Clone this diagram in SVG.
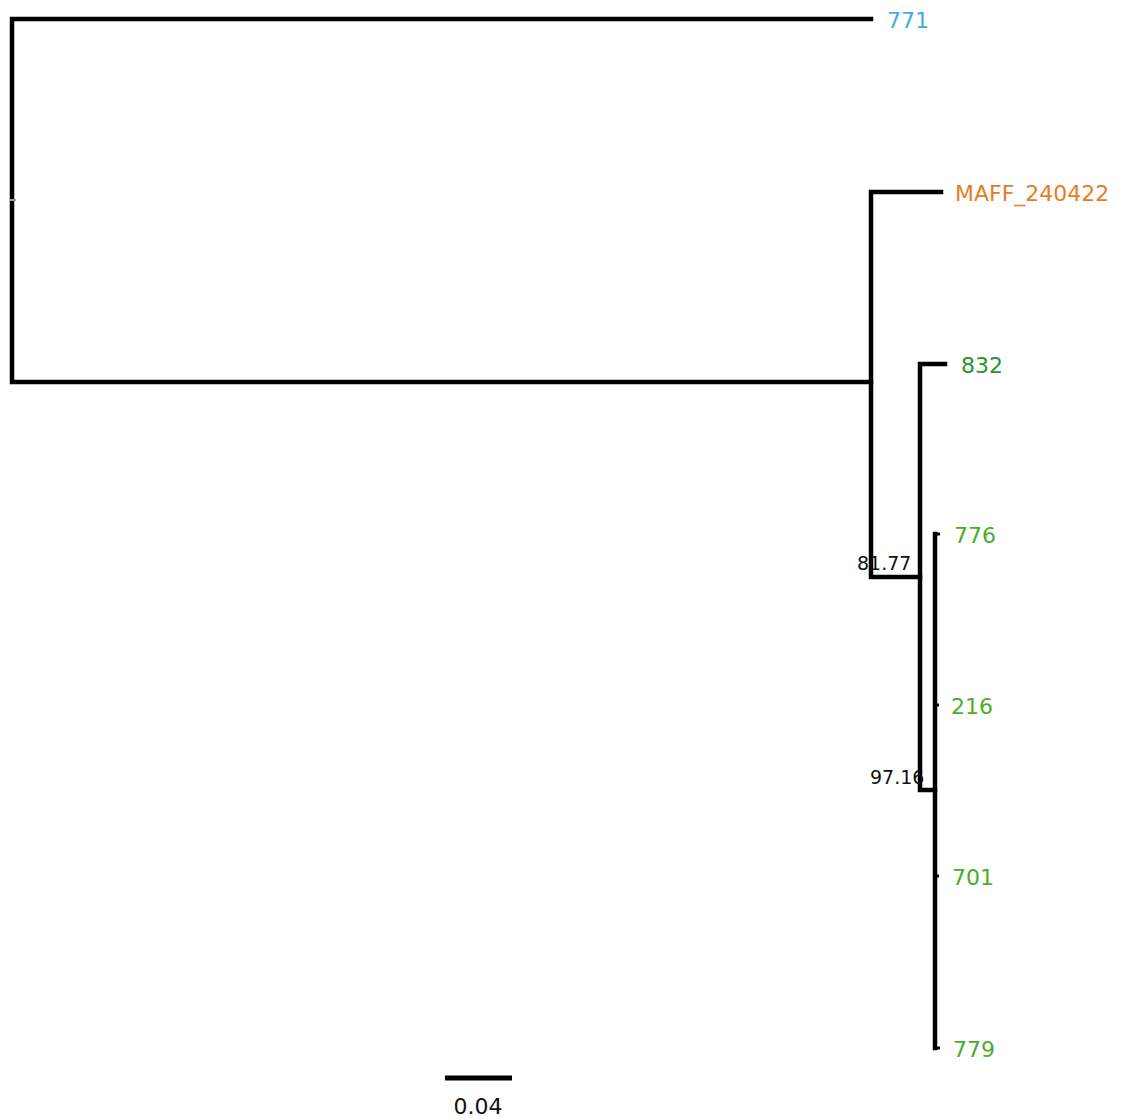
<svg xmlns="http://www.w3.org/2000/svg" width="1124" height="1119" viewBox="0 0 1124 1119">
<style>
.br{fill:none;stroke:#000;stroke-width:4.5;stroke-linecap:square;stroke-linejoin:miter}
.tk{fill:none;stroke:#000;stroke-width:3}
.lab{font-family:"DejaVu Sans",Verdana,sans-serif;font-size:22px}
.sup{font-family:"DejaVu Sans",Verdana,sans-serif;font-size:19px;fill:#111}
</style>
<rect width="1124" height="1119" fill="#fff"/>
<g id="connectors">
<path class="br" d="M871,19 H12 V382 H871"/>
<path class="br" d="M941,192 H871 V577 H920"/>
<path class="br" d="M945,364 H920 V790 H935"/>
<path class="br" d="M935,534 V1048"/>
<path class="tk" d="M934,534 H940 M934,705 H939 M934,876 H939 M934,1048 H940"/>
<path d="M10,200 H16" stroke="#999" stroke-width="2"/>
</g>
<g id="tip-771"><text class="lab" x="887" y="28" fill="#4aa8e6">771</text></g>
<g id="tip-MAFF_240422"><text class="lab" x="955" y="201" fill="#e47e25">MAFF_240422</text></g>
<g id="tip-832"><text class="lab" x="961" y="373" fill="#2f8f2f">832</text></g>
<g id="tip-776"><text class="lab" x="954" y="543" fill="#4aae2a">776</text></g>
<g id="tip-216"><text class="lab" x="951" y="714" fill="#4aae2a">216</text></g>
<g id="tip-701"><text class="lab" x="952" y="885" fill="#4aae2a">701</text></g>
<g id="tip-779"><text class="lab" x="953" y="1057" fill="#4aae2a">779</text></g>
<g id="node-81.77"><text class="sup" x="857" y="570">81.77</text></g>
<g id="node-97.16"><text class="sup" x="870" y="784">97.16</text></g>
<g id="scale">
<path d="M445,1078 H512" stroke="#000" stroke-width="5"/>
<text class="lab" x="478" y="1114" text-anchor="middle" fill="#111">0.04</text>
</g>
</svg>
